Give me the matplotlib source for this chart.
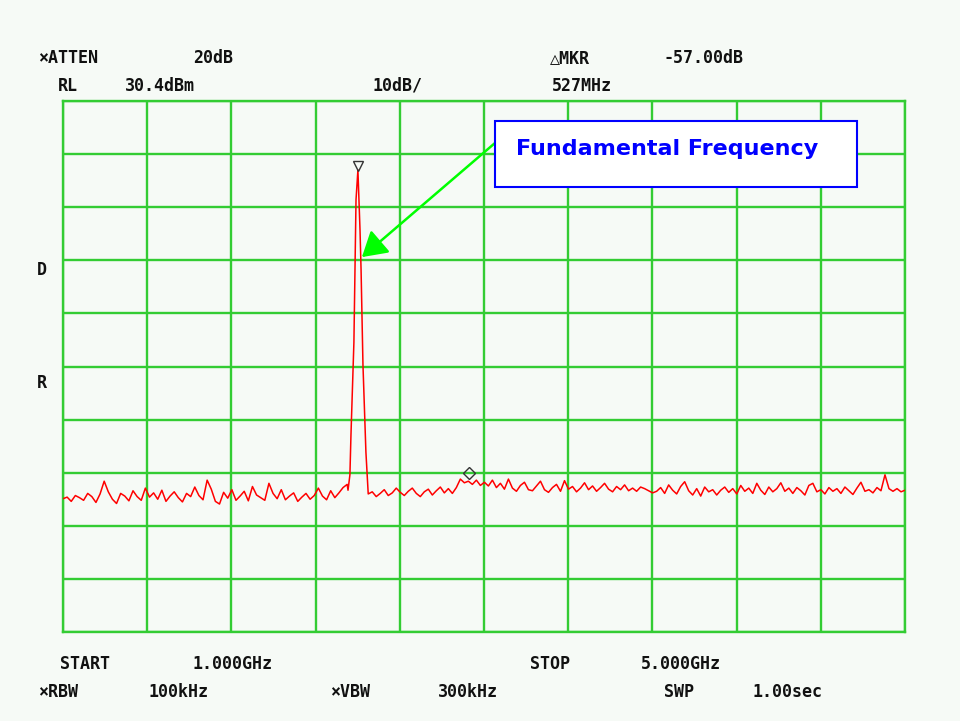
import numpy as np
import matplotlib.pyplot as plt
from matplotlib.patches import Rectangle
from matplotlib.transforms import offset_copy

# Ajustes do analisador
START_GHZ, STOP_GHZ = 1.0, 5.0
REF_LEVEL = 30.4      # dBm
DB_PER_DIV = 10.0
N_DIV = 10

# Ruído à esquerda da portadora (dBm)
noise_left = [
    -44.5, -44.2, -45.0, -43.9, -44.3, -44.8, -43.5, -44.1, -45.2, -43.6,
    -41.2, -43.2, -44.6, -45.4, -43.5, -44.0, -44.9, -43.0, -44.1, -44.8,
    -42.5, -44.2, -43.4, -44.6, -42.9, -45.0, -44.0, -43.2, -44.3, -45.1,
    -43.5, -44.1, -42.3, -43.9, -44.7, -41.0, -42.7, -45.0, -45.5, -43.3,
    -44.4, -42.8, -44.8, -44.0, -43.1, -44.9, -42.2, -43.8, -44.3, -44.8,
    -41.6, -43.5, -44.5, -42.8, -44.7, -44.0, -43.4, -45.0, -44.2, -43.5,
    -44.6, -43.9, -42.5, -44.0, -44.7, -43.0, -44.3, -43.4, -42.4, -41.8,
]
left_span = (1.0, 2.35)

# Portadora (fundamental)
peak_freq = [2.354, 2.363, 2.368, 2.382, 2.392, 2.401, 2.411, 2.416, 2.425, 2.439]
peak_level = [-42.9, -40.0, -32.5, -15.0, 11.8, 17.4, 6.1, -1.4, -19.3, -35.7]

# Ruído à direita da portadora (dBm)
noise_right = [
    -43.6, -43.2, -44.1, -43.5, -42.8, -43.9, -43.4, -42.5, -43.3, -43.9,
    -43.1, -42.5, -43.5, -44.1, -43.2, -42.7, -43.8, -43.0, -42.3, -43.4,
    -42.6, -43.5, -42.4,
    -40.8, -41.5, -41.2, -41.8, -41.0, -42.0, -41.4, -42.1,
    -41.0, -42.4, -41.6, -42.7, -40.8, -42.5, -43.1, -42.0, -41.4, -42.8,
    -43.0, -42.1, -41.2, -42.8, -43.3, -42.4, -41.8, -43.1, -41.1, -42.7,
    -42.2, -43.2, -42.5, -41.5, -42.8, -42.1, -43.1, -42.4, -41.6, -42.7,
    -43.2, -42.2, -42.8, -41.9, -43.0, -42.5, -43.1, -42.3,
    -42.6, -43.0, -43.4, -43.1, -42.4, -43.5, -41.9, -42.9, -43.6, -42.2,
    -41.3, -43.0, -43.8, -42.6, -44.0, -42.3, -43.2, -42.8, -43.8, -42.9,
    -42.3, -43.3, -42.6, -43.6, -42.0, -43.1, -42.5, -43.5, -41.6, -42.9,
    -43.7, -42.3, -43.2, -42.6, -41.5, -43.1, -42.5, -43.5, -42.4, -43.0,
    -43.8, -42.0, -41.6, -43.2, -42.8, -43.6, -42.4, -43.1, -42.6, -43.5,
    -42.3, -43.0, -43.7, -42.5, -41.4, -43.1, -42.8, -43.4, -42.4, -43.0,
    -40.0, -42.6, -43.1, -42.6, -43.2, -42.9,
]
right_span = (2.45, 5.0)

# Marcadores
mkr_freq, mkr_level = 2.401, 17.4
delta_freq, delta_db = 0.527, -57.0

BG = "#f6faf6"
GRID = "#33cc33"
TRACE = "#ff0000"

fig = plt.figure(figsize=(9.6, 7.21), dpi=100, facecolor=BG)
W, H = 960, 721
ax = fig.add_axes([63 / W, (H - 632) / H, 842 / W, 531 / H])
ax.set_facecolor(BG)

bottom = REF_LEVEL - DB_PER_DIV * N_DIV
ax.set_xlim(START_GHZ, STOP_GHZ)
ax.set_ylim(bottom, REF_LEVEL)
ax.set_xticks(np.linspace(START_GHZ, STOP_GHZ, N_DIV + 1))
ax.set_yticks(np.linspace(bottom, REF_LEVEL, N_DIV + 1))
ax.tick_params(length=0, labelbottom=False, labelleft=False)
ax.grid(True, color=GRID, lw=1.7)
for s in ax.spines.values():
    s.set_color(GRID)
    s.set_linewidth(1.7)

# Traço
freqs = np.concatenate([np.linspace(*left_span, len(noise_left)), peak_freq,
                        np.linspace(*right_span, len(noise_right))])
levels = np.concatenate([noise_left, peak_level, noise_right])
ax.plot(freqs, levels, color=TRACE, lw=1.1, zorder=3)

# Marcador de pico e marcador delta
ax.plot([mkr_freq], [mkr_level], marker="v", ms=7, mfc="none", mec="#333333", mew=1.0,
        transform=offset_copy(ax.transData, fig=fig, y=3, units="points"), zorder=4)
ax.plot([mkr_freq + delta_freq], [mkr_level + delta_db], marker="D", ms=6, mfc="none",
        mec="#333333", mew=1.0, zorder=4)

# Caixa de anotação
fig.patches.append(Rectangle((495 / W, (H - 187) / H), 362 / W, 66 / H, transform=fig.transFigure,
                             facecolor="white", edgecolor="#0000ff", lw=1.5, zorder=5))
fig.text(516 / W, (H - 149) / H, "Fundamental Frequency", color="#0000ff", fontsize=16,
         fontweight="bold", family="DejaVu Sans", va="center", ha="left", zorder=6)
ax.annotate("", xy=(2.420, 1.0), xycoords="data",
            xytext=(495 / W, (H - 143) / H), textcoords="figure fraction",
            arrowprops=dict(arrowstyle="-|>,head_length=0.5,head_width=0.3", color="#00ff00",
                            lw=1.8, mutation_scale=30, shrinkA=0, shrinkB=0), zorder=6)

# Textos do analisador
labels = [
    ("\u00d7ATTEN", 38, 58), ("20dB", 193, 58), ("\u25b3MKR", 550, 58), ("-57.00dB", 663, 58),
    ("RL", 58, 86), ("30.4dBm", 125, 86), ("10dB/", 372, 86), ("527MHz", 552, 86),
    ("D", 37, 270), ("R", 37, 383),
    ("START", 60, 664), ("1.000GHz", 193, 664), ("STOP", 530, 664), ("5.000GHz", 641, 664),
    ("\u00d7RBW", 38, 692), ("100kHz", 148, 692), ("\u00d7VBW", 330, 692),
    ("300kHz", 438, 692), ("SWP", 664, 692), ("1.00sec", 752, 692),
]
for txt, px, py in labels:
    fig.text(px / W, (H - py) / H, txt, family="DejaVu Sans Mono", fontweight="bold",
             fontsize=12, color="#111111", va="center", ha="left")

fig.savefig("out.png", dpi=100, facecolor=BG)
